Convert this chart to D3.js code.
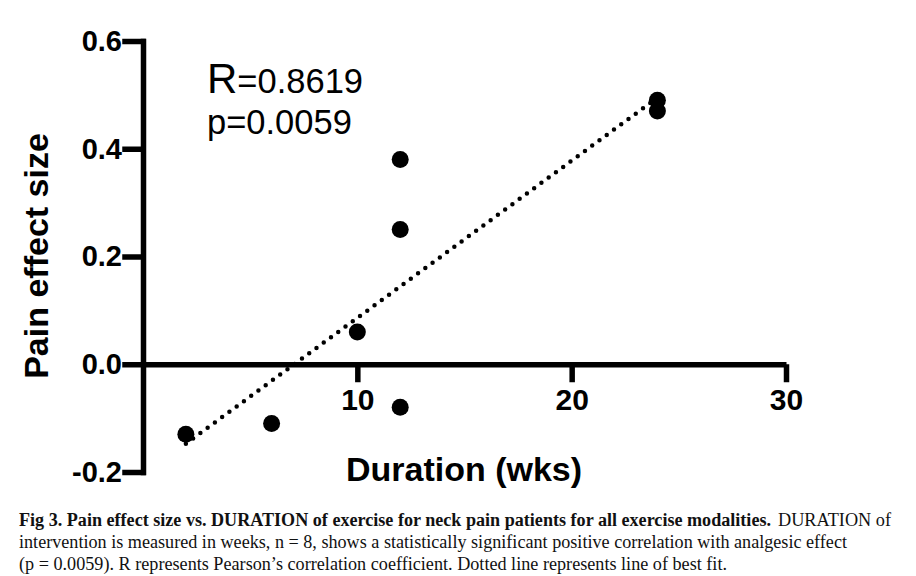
<!DOCTYPE html>
<html>
<head>
<meta charset="utf-8">
<script src="https://cdn.jsdelivr.net/npm/d3@7"></script>
<style>
    body { margin: 0; background: #fff; }
    svg { display: block; }
</style>
</head>
<body>
<svg></svg>
<script>

// duration (weeks) and pain effect size, one entry per study
const duration = [2, 6, 10, 12, 12, 12, 24, 24];
const effectSize = [-0.13, -0.11, 0.06, 0.38, 0.25, -0.08, 0.49, 0.47];

const xTicks = [10, 20, 30];
const yTicks = [-0.2, 0.0, 0.2, 0.4, 0.6];

const statR = '0.8619';
const statP = '0.0059';

// caption pieces: text, bold?, line number, start x, width
const captionParts = [
    ['Fig 3. Pain effect size vs. DURATION of exercise for neck pain patients for all exercise modalities.', true, 0, 19, 752],
    ['DURATION of', false, 0, 778, 113],
    ['intervention is measured in weeks, n = 8, shows a statistically significant positive correlation with analgesic effect', false, 1, 19, 828],
    ['(p = 0.0059). R represents Pearson\u2019s correlation coefficient. Dotted line represents line of best fit.', false, 2, 19, 708]
];

init();

function init() {
    var w = 916;
    var h = 576;
    var svg = d3.select('svg').attr('width', w).attr('height', h);

    var x = d3.scaleLinear().domain([0, 30]).range([143, 786]);
    var y = d3.scaleLinear().domain([-0.2, 0.6]).range([472, 41]);

    var font = '"Liberation Sans", Arial, Helvetica, sans-serif';

    // y axis
    var yAxis = d3.axisLeft(y).tickValues(yTicks).tickSize(18).tickSizeOuter(0).tickPadding(3)
        .tickFormat(d => d.toFixed(1));
    var gy = svg.append('g').attr('transform', 'translate(' + x(0) + ',0)').call(yAxis);
    gy.selectAll('path, line').attr('stroke', '#000').attr('stroke-width', 5.5).attr('stroke-linecap', 'square');
    gy.selectAll('text').attr('font-family', font).attr('font-weight', 'bold').attr('font-size', 29).attr('fill', '#000');

    // x axis sits on y = 0
    var xAxis = d3.axisBottom(x).tickValues(xTicks).tickSize(18).tickSizeOuter(0).tickPadding(6)
        .tickFormat(d3.format('d'));
    var gx = svg.append('g').attr('transform', 'translate(0,' + y(0) + ')').call(xAxis);
    gx.selectAll('path, line').attr('stroke', '#000').attr('stroke-width', 5.5);
    gx.selectAll('text').attr('font-family', font).attr('font-weight', 'bold').attr('font-size', 30).attr('fill', '#000');
    svg.selectAll('.domain').attr('fill', 'none');

    // line of best fit (least squares on the points)
    var mx = d3.mean(duration);
    var my = d3.mean(effectSize);
    var sxy = d3.sum(duration, (d, i) => (d - mx) * (effectSize[i] - my));
    var sxx = d3.sum(duration, d => (d - mx) * (d - mx));
    var slope = sxy / sxx;
    var icpt = my - slope * mx;
    var ends = d3.extent(duration);

    svg.append('path')
        .datum(ends)
        .attr('fill', 'none')
        .attr('stroke', '#000')
        .attr('stroke-width', 4.5)
        .attr('stroke-linecap', 'round')
        .attr('stroke-dasharray', '0 9')
        .attr('d', d3.line().x(d => x(d)).y(d => y(icpt + slope * d)));

    // points
    svg.append('g').selectAll('circle')
        .data(duration)
        .enter().append('circle')
        .attr('cx', d => x(d))
        .attr('cy', (d, i) => y(effectSize[i]))
        .attr('r', 8.5)
        .attr('fill', '#000');

    // stats
    var tR = svg.append('text').attr('x', 207).attr('y', 93).attr('font-family', font).attr('fill', '#000');
    tR.append('tspan').attr('font-size', 42).text('R');
    tR.append('tspan').attr('font-size', 34.5).text('=' + statR);

    svg.append('text').attr('x', 207).attr('y', 134).attr('font-family', font).attr('font-size', 34.5)
        .attr('fill', '#000').text('p=' + statP);

    // axis titles
    svg.append('text')
        .attr('x', 464).attr('y', 481)
        .attr('text-anchor', 'middle')
        .attr('font-family', font).attr('font-weight', 'bold').attr('font-size', 34)
        .text('Duration (wks)');

    svg.append('text')
        .attr('transform', 'translate(48,256) rotate(-90)')
        .attr('text-anchor', 'middle')
        .attr('font-family', font).attr('font-weight', 'bold').attr('font-size', 34)
        .text('Pain effect size');

    // caption
    var capBase = [526, 548, 570];
    captionParts.forEach(c => {
        svg.append('text')
            .attr('x', c[3]).attr('y', capBase[c[2]])
            .attr('font-family', '"Liberation Serif", "Times New Roman", serif')
            .attr('font-size', 18.5)
            .attr('font-weight', c[1] ? 'bold' : 'normal')
            .attr('fill', '#111')
            .attr('textLength', c[4])
            .attr('lengthAdjust', 'spacingAndGlyphs')
            .text(c[0]);
    });
}

</script>
</body>
</html>
